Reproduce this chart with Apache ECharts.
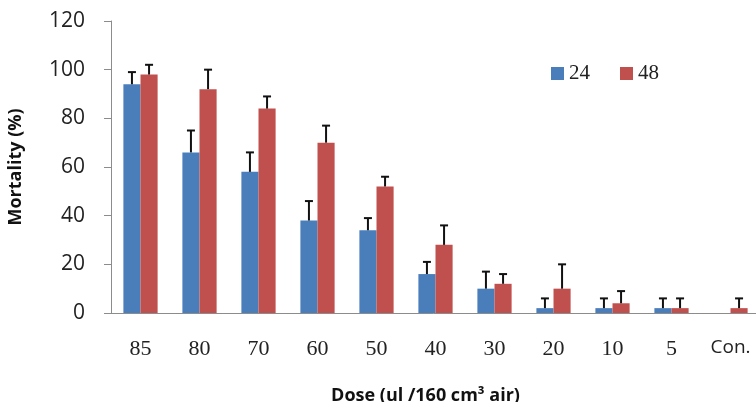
<!DOCTYPE html>
<html><head><meta charset="utf-8">
<script src="https://cdn.jsdelivr.net/npm/echarts@6/dist/echarts.min.js"></script>
<style>html,body{margin:0;padding:0;background:#fff;width:100%;height:100%;overflow:hidden}#c{width:100%;height:100%}</style>
</head><body><div id="c"></div>
<script>
const categories = ['85','80','70','60','50','40','30','20','10','5','Con.'];
const seriesNames = ['24','48'];
const mort24 = [94, 66, 58, 38, 34, 16, 10, 2, 2, 2, 0];
const mort48 = [98, 92, 84, 70, 52, 28, 12, 10, 4, 2, 2];
const err24 = [5, 9, 8, 8, 5, 5, 7, 4, 4, 4, null];
const err48 = [4, 8, 5, 7, 4, 8, 4, 10, 5, 4, 4];
const yTicks = [0, 20, 40, 60, 80, 100, 120];

const colors = ['#4a7ebb', '#c0504d'];
const catGap = 0.42;

function errSeries(vals, errs, idx) {
  return {
    type: 'custom',
    name: seriesNames[idx] + ' err',
    data: vals.map((v, i) => [i, v, errs[i]]),
    z: 5,
    silent: true,
    renderItem: function (params, api) {
      const e = api.value(2);
      if (e === null || e === undefined || isNaN(e)) return null;
      const i = api.value(0), v = api.value(1);
      const band = api.size([1, 0])[0];
      const barW = band * (1 - catGap) / 2;
      const off = (idx === 0 ? -1 : 1) * barW / 2;
      const p0 = api.coord([i, v]);
      const p1 = api.coord([i, v + e]);
      const x = p0[0] + off;
      const cap = 4;
      return {
        type: 'group',
        children: [
          { type: 'line', shape: { x1: x, y1: p0[1], x2: x, y2: p1[1] }, style: { stroke: '#111', lineWidth: 2 } },
          { type: 'line', shape: { x1: x - cap, y1: p1[1], x2: x + cap, y2: p1[1] }, style: { stroke: '#111', lineWidth: 2 } }
        ]
      };
    }
  };
}

const chart = echarts.init(document.getElementById('c'));
chart.setOption({
  animation: false,
  backgroundColor: '#fff',
  grid: { left: 111, top: 21, width: 649, height: 292, containLabel: false, outerBoundsMode: 'none' },
  legend: {
    data: seriesNames,
    left: 546, top: 58,
    itemWidth: 13, itemHeight: 13, itemGap: 30,
    icon: 'rect',
    textStyle: { fontFamily: 'Liberation Serif', fontSize: 21, color: '#222' }
  },
  xAxis: {
    type: 'category',
    data: categories,
    axisLine: { lineStyle: { color: '#8c8c8c', width: 1 } },
    axisTick: { show: false },
    axisLabel: {
      interval: 0,
      margin: 25,
      fontFamily: 'Liberation Serif', fontSize: 22, color: '#222',
      formatter: function (v) { return v === 'Con.' ? '{s|' + v + '}' : v; },
      rich: { s: { fontFamily: 'Open Sans', fontSize: 19, color: '#222' } }
    },
    name: 'Dose (ul /160 cm³ air)',
    nameLocation: 'middle',
    nameGap: 74,
    nameTextStyle: { fontFamily: 'Open Sans', fontWeight: 'bold', fontSize: 18, color: '#111', padding: [0, 20, 0, 0] }
  },
  yAxis: {
    type: 'value',
    min: 0, max: 120, interval: 20,
    axisLine: { show: true, lineStyle: { color: '#8c8c8c', width: 1 } },
    axisTick: { show: true, length: 7, lineStyle: { color: '#8c8c8c' } },
    splitLine: { show: false },
    axisLabel: {
      margin: 26,
      fontFamily: 'Open Sans', fontSize: 21, color: '#222',
      formatter: function (v) { return yTicks.indexOf(v) >= 0 ? String(v) : ''; }
    },
    name: 'Mortality (%)',
    nameLocation: 'middle',
    nameGap: 86,
    nameRotate: 90,
    nameTextStyle: { fontFamily: 'Open Sans', fontWeight: 'bold', fontSize: 18, color: '#111' }
  },
  series: [
    { type: 'bar', name: seriesNames[0], data: mort24, itemStyle: { color: colors[0] }, barGap: '0%', barCategoryGap: (catGap * 100) + '%' },
    { type: 'bar', name: seriesNames[1], data: mort48, itemStyle: { color: colors[1] }, barGap: '0%', barCategoryGap: (catGap * 100) + '%' },
    errSeries(mort24, err24, 0),
    errSeries(mort48, err48, 1)
  ],
  color: colors
});
</script></body></html>
